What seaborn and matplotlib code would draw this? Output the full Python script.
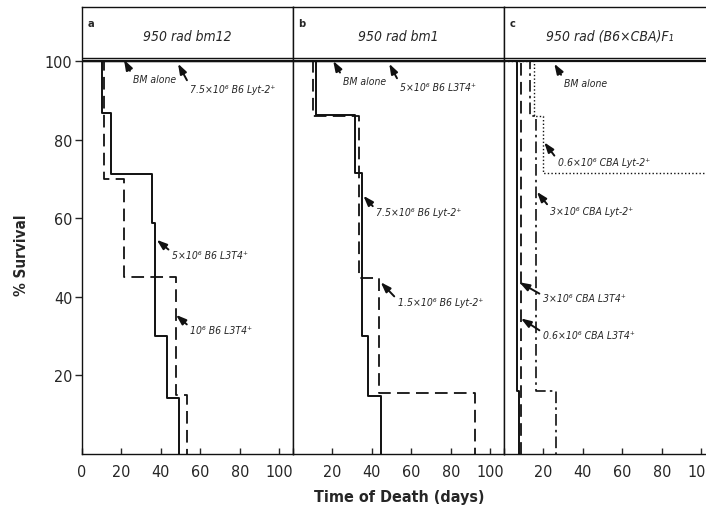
import matplotlib
matplotlib.use("Agg")
import matplotlib.pyplot as plt
import seaborn as sns
import pandas as pd

# survival curves: days of death / % survival (step after)
XMAX = 107

panel_titles = ["950 rad bm12", "950 rad bm1", "950 rad (B6×CBA)F₁"]
panel_letters = ["a", "b", "c"]

# panel a
a_bm_t = [0, XMAX]
a_bm_s = [100, 100]
a_lyt75_t = [0, XMAX]
a_lyt75_s = [100, 100]
a_l3t4_5_t = [0, 10, 14.5, 35.3, 37, 43.3, 49]
a_l3t4_5_s = [100, 86.7, 71.2, 58.8, 30, 14.3, 0]
a_l3t4_1_t = [0, 11.3, 21.3, 47.5, 53]
a_l3t4_1_s = [100, 70, 45, 15, 0]

# panel b
b_bm_t = [0, XMAX]
b_bm_s = [100, 100]
b_l3t4_5_t = [0, XMAX]
b_l3t4_5_s = [100, 100]
b_lyt75_t = [0, 11.5, 31.4, 35, 38, 44.5]
b_lyt75_s = [100, 86.3, 71.4, 30, 14.8, 0]
b_lyt15_t = [0, 10.3, 33.4, 43.7, 92.5]
b_lyt15_s = [100, 86, 44.7, 15.5, 0]

# panel c
c_bm_t = [0, XMAX]
c_bm_s = [100, 100]
c_l3t4_3_t = [0, 6.6, 7.8]
c_l3t4_3_s = [100, 16, 0]
c_l3t4_06_t = [0, 8.8]
c_l3t4_06_s = [100, 0]
c_lyt3_t = [0, 13, 16, 26.5]
c_lyt3_s = [100, 86, 16, 0]
c_lyt06_t = [0, 15.3, 19.6, XMAX]
c_lyt06_s = [100, 86, 71.4, 71.4]

SOLID = "-"
DASH = (0, (7, 3.5))
DASHDOT = (0, (7, 2.5, 1.5, 2.5))
DOT = (0, (1, 1.6))

panels = [
    [(a_bm_t, a_bm_s, SOLID, 1.0), (a_lyt75_t, a_lyt75_s, SOLID, 1.6),
     (a_l3t4_5_t, a_l3t4_5_s, SOLID, 1.4), (a_l3t4_1_t, a_l3t4_1_s, DASH, 1.3)],
    [(b_bm_t, b_bm_s, SOLID, 1.0), (b_l3t4_5_t, b_l3t4_5_s, SOLID, 1.6),
     (b_lyt75_t, b_lyt75_s, SOLID, 1.4), (b_lyt15_t, b_lyt15_s, DASH, 1.3)],
    [(c_bm_t, c_bm_s, SOLID, 1.6), (c_l3t4_3_t, c_l3t4_3_s, SOLID, 1.4),
     (c_l3t4_06_t, c_l3t4_06_s, DASH, 1.3), (c_lyt3_t, c_lyt3_s, DASHDOT, 1.2),
     (c_lyt06_t, c_lyt06_s, DOT, 1.0)],
]

# label text, arrow tip (x, y), text anchor (x, y)
notes = [
    [("BM alone", (21.3, 100.3), (25.9, 95.4)),
     ("7.5×10⁶ B6 Lyt-2⁺", (48.7, 99.3), (54.8, 93.0)),
     ("5×10⁶ B6 L3T4⁺", (37.9, 54.5), (45.5, 50.7)),
     ("10⁶ B6 L3T4⁺", (47.7, 35.4), (54.8, 31.6))],
    [("BM alone", (20.4, 100.0), (25.5, 95.0)),
     ("5×10⁶ B6 L3T4⁺", (48.8, 99.3), (54.3, 93.5)),
     ("7.5×10⁶ B6 Lyt-2⁺", (35.7, 65.7), (42.1, 61.5)),
     ("1.5×10⁶ B6 Lyt-2⁺", (44.5, 43.7), (53.0, 38.6))],
    [("BM alone", (25.5, 99.3), (30.6, 94.5)),
     ("0.6×10⁶ CBA Lyt-2⁺", (20.4, 79.3), (27.2, 74.2)),
     ("3×10⁶ CBA Lyt-2⁺", (16.7, 66.7), (23.5, 61.9)),
     ("3×10⁶ CBA L3T4⁺", (7.8, 43.7), (19.6, 39.7)),
     ("0.6×10⁶ CBA L3T4⁺", (8.6, 34.5), (19.6, 30.3))],
]

sns.set_style("ticks")
FONT = ["Liberation Sans Narrow", "DejaVu Sans Condensed", "DejaVu Sans"]
plt.rcParams["font.family"] = FONT
plt.rcParams["font.stretch"] = "condensed"
plt.rcParams["axes.linewidth"] = 1.0

W, H = 706, 510
fig = plt.figure(figsize=(W / 100, H / 100), dpi=100)

lefts = [82, 293, 504]
pw = 211
bottom, top = 455, 8
ymax = (bottom - top) / 3.93

for i, left in enumerate(lefts):
    ax = fig.add_axes([left / W, 1 - bottom / H, pw / W, (bottom - top) / H])
    for t, s, ls, lw in panels[i]:
        df = pd.DataFrame({"day": t, "surv": s})
        sns.lineplot(data=df, x="day", y="surv", ax=ax, estimator=None, sort=False,
                     drawstyle="steps-post", color="#111111", linestyle=ls, lw=lw)
    ax.set_xlim(0, XMAX)
    ax.set_ylim(0, ymax)
    ax.set_xlabel("")
    ax.set_ylabel("")
    ax.axhline(100.7, color="#111111", lw=1.0)
    for sp in ax.spines.values():
        sp.set_visible(True)
        sp.set_color("#111111")
    ax.set_xticks([0, 20, 40, 60, 80, 100])
    xl = ["0", "20", "40", "60", "80", "100"]
    if i > 0:
        xl[0] = ""
    ax.set_xticklabels(xl)
    ax.tick_params(axis="x", direction="in", length=4, width=1.0, pad=7,
                   labelsize=11.5)
    if i == 0:
        ax.set_yticks([20, 40, 60, 80, 100])
        ax.tick_params(axis="y", direction="out", length=5, width=1.0,
                       labelsize=11.5, pad=2)
    else:
        ax.set_yticks([])
    ax.text(0.025, 0.975, panel_letters[i], transform=ax.transAxes, fontsize=8,
            fontweight="bold", ha="left", va="top")
    ax.text(XMAX / 2, 106.4, panel_titles[i], ha="center", va="center",
            fontsize=10, style="italic")
    for label, tip, txt in notes[i]:
        ax.annotate(label, xy=tip, xytext=txt, fontsize=7.5, style="italic",
                    ha="left", va="center",
                    arrowprops=dict(arrowstyle="-|>,head_length=0.8,head_width=0.28",
                                    color="#111111", lw=1.4, shrinkA=0, shrinkB=0,
                                    relpos=(0, 0.75)))

fig.text(0.565, 0.025, "Time of Death (days)", ha="center", va="center",
         fontsize=11.5, fontweight="bold")
fig.text(0.03, 0.5, "% Survival", ha="center", va="center", rotation=90,
         fontsize=11, fontweight="bold")

fig.savefig("out.png", dpi=100)
